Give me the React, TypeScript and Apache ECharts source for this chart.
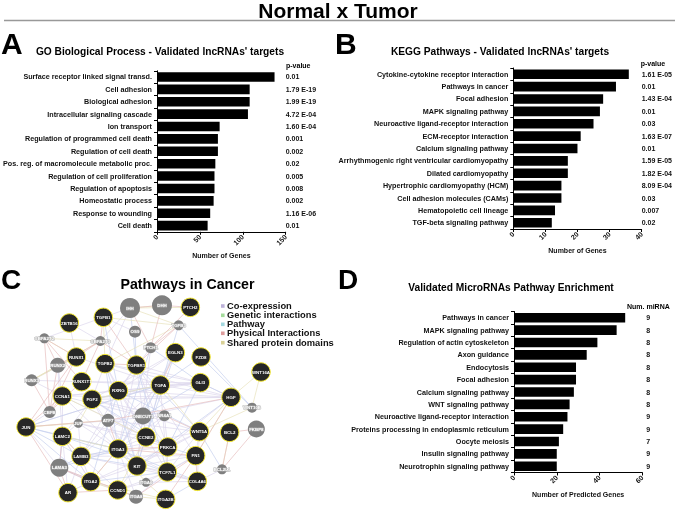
import React, { useEffect, useRef } from "react";
import * as echarts from "echarts";

const mainTitle = "Normal x Tumor";
const panelLetters = ["A", "B", "C", "D"];
const titleA = "GO Biological Process - Validated lncRNAs' targets";
const titleB = "KEGG Pathways - Validated lncRNAs' targets";
const titleC = "Pathways in Cancer";
const titleD = "Validated MicroRNAs Pathway Enrichment";

const catsA = ["Surface receptor linked signal transd.", "Cell adhesion", "Biological adhesion", "Intracellular signaling cascade", "Ion transport", "Regulation of programmed cell death", "Regulation of cell death", "Pos. reg. of macromolecule metabolic proc.", "Regulation of cell proliferation", "Regulation of apoptosis", "Homeostatic process", "Response to wounding", "Cell death"];
const valsA = [137, 108, 108, 106, 73, 71, 71, 68, 67, 67, 66, 62, 59];
const pA = ["0.01", "1.79 E-19", "1.99 E-19", "4.72 E-04", "1.60 E-04", "0.001", "0.002", "0.02", "0.005", "0.008", "0.002", "1.16 E-06", "0.01"];

const catsB = ["Cytokine-cytokine receptor interaction", "Pathways in cancer", "Focal adhesion", "MAPK signaling pathway", "Neuroactive ligand-receptor interaction", "ECM-receptor interaction", "Calcium signaling pathway", "Arrhythmogenic right ventricular cardiomyopathy", "Dilated cardiomyopathy", "Hypertrophic cardiomyopathy (HCM)", "Cell adhesion molecules (CAMs)", "Hematopoietic cell lineage", "TGF-beta signaling pathway"];
const valsB = [36, 32, 28, 27, 25, 21, 20, 17, 17, 15, 15, 13, 12];
const pB = ["1.61 E-05", "0.01", "1.43 E-04", "0.01", "0.03", "1.63 E-07", "0.01", "1.59 E-05", "1.82 E-04", "8.09 E-04", "0.03", "0.007", "0.02"];

const catsD = ["Pathways in cancer", "MAPK signaling pathway", "Regulation of actin cytoskeleton", "Axon guidance", "Endocytosis", "Focal adhesion", "Calcium signaling pathway", "WNT signaling pathway", "Neuroactive ligand-receptor interaction", "Proteins processing in endoplasmic reticulum", "Oocyte meiosis", "Insulin signaling pathway", "Neurotrophin signaling pathway"];
const valsD = [52, 48, 39, 34, 29, 29, 28, 26, 25, 23, 21, 20, 20];
const numD = ["9", "8", "8", "8", "8", "8", "8", "8", "9", "9", "7", "9", "9"];

const legendNames = ["Co-expression", "Genetic interactions", "Pathway", "Physical Interactions", "Shared protein domains"];

const blackNodes: [string, number, number][] = [
  ["ZBTB16", 208, 189], ["TGFB1", 310, 172], ["RUNX1", 229, 291], ["TGFB2", 315, 311], ["TGFBR1", 409, 315], ["EGLN3", 526, 278], ["FZD8", 603, 291], ["WNT16A", 783, 336], ["GLI3", 601, 368], ["TGFA", 481, 375], ["RUNX1T1", 245, 365], ["RXRG", 355, 392], ["CCNA1", 187, 408], ["FGF2", 276, 418], ["HGF", 693, 412], ["JUN", 78, 501], ["LAMC2", 187, 529], ["CCNE2", 438, 531], ["WNT5A", 598, 515], ["BCL2", 689, 517], ["ITGA3", 354, 567], ["PRKCA", 503, 561], ["FN1", 587, 587], ["LAMB3", 243, 589], ["KIT", 411, 618], ["TCF7L1", 502, 636], ["COL4A6", 592, 664], ["ITGA2", 272, 665], ["CCND1", 353, 690], ["AR", 204, 698], ["ITGA2B", 497, 718], ["PTCH2", 571, 142],
];
const greyNodes: [string, number, number, number][] = [
  ["IHH", 390, 144, 20], ["DHH", 486, 136, 20], ["TGFB3", 536, 196, 10], ["OS9", 405, 215, 12], ["CBFA2T2", 133, 235, 10], ["CBFA2T3", 301, 243, 10], ["PTCH1", 452, 263, 11], ["RUNX2", 173, 316, 15], ["RUNX3", 95, 361, 12], ["CBFB", 149, 456, 12], ["JUP", 235, 490, 9], ["ATF7", 324, 481, 13], ["ONECUT1", 429, 468, 17], ["NR4A1", 493, 467, 11], ["WNT10B", 756, 443, 10], ["FKBP8", 769, 507, 17], ["LAMA3", 178, 623, 18], ["BCL2L1", 666, 628, 10], ["ITGA6", 438, 667, 9], ["ITGA8", 408, 710, 14],
];

const physicalLinks = "IHH-DHH DHH-PTCH2 DHH-PTCH1 IHH-PTCH1 PTCH2-PTCH1 PTCH1-TGFB3 CBFA2T2-RUNX1 CBFA2T2-RUNX2 CBFA2T2-RUNX1T1 CBFA2T2-CBFB CBFA2T3-RUNX1 CBFA2T3-RUNX1T1 CBFA2T3-RUNX2 RUNX2-CBFB RUNX1-CBFB RUNX3-CBFB RUNX1T1-CBFB CBFA2T3-TGFBR1 TGFB1-TGFBR1 TGFB2-TGFBR1 TGFB3-TGFBR1 TGFB1-CBFA2T3 JUN-AR JUN-CCNA1 JUN-RUNX1 JUN-ATF7 AR-LAMA3 AR-CCND1 ITGA2-LAMA3 LAMC2-LAMA3 LAMB3-LAMC2 BCL2-BCL2L1 FKBP8-BCL2L1 BCL2-FKBP8 FN1-ITGA3 FN1-ITGA2B FN1-COL4A6 FN1-ITGA8 PRKCA-ITGA3 HGF-FN1 CCNA1-CBFB ITGA3-ATF7 NR4A1-WNT5A LAMA3-ITGA8 ITGA2-ITGA3 HGF-ATF7 TGFA-EGLN3".split(" ");
const sharedLinks = "IHH-DHH IHH-TGFB3 TGFB1-TGFB3 TGFB2-TGFB3 TGFB1-TGFB2 RUNX1-RUNX2 RUNX2-RUNX3 RUNX1-RUNX3 CBFA2T2-CBFA2T3 HGF-WNT16A WNT16A-WNT10B WNT5A-WNT10B WNT5A-HGF ITGA2-ITGA3 ITGA3-ITGA6 ITGA2B-ITGA6 ITGA8-ITGA2B ITGA2-ITGA8 ITGA2-ITGA2B CCNA1-CCNE2 CCND1-CCNE2 BCL2-BCL2L1 LAMC2-LAMB3 FGF2-TGFA JUN-JUP JUP-FGF2 ATF7-JUN FN1-HGF CBFA2T2-RUNX1 RUNX3-CBFA2T3 IHH-PTCH2 ITGA3-LAMC2 TGFA-WNT5A".split(" ");
const blueLinks = "TGFB3-WNT10B FZD8-WNT10B HGF-GLI3 JUN-LAMC2 JUN-ITGA3 JUN-LAMB3 JUN-ITGA2 LAMC2-ITGA3 LAMB3-ITGA3 LAMA3-ITGA2 LAMA3-ITGA3 LAMB3-LAMA3 LAMC2-LAMA3 TGFA-FGF2 GLI3-ONECUT1 PTCH1-GLI3 COL4A6-ITGA3 COL4A6-ITGA2B FN1-PRKCA TGFBR1-TCF7L1 TGFB1-RXRG TGFB2-KIT TGFB2-ITGA3 RXRG-WNT5A EGLN3-ONECUT1 TGFA-ITGA3 GLI3-PRKCA TGFBR1-WNT5A FGF2-PRKCA IHH-TGFBR1 OS9-TGFBR1 FZD8-TGFA TGFB3-KIT PTCH1-ITGA3 LAMB3-KIT LAMC2-TCF7L1 JUN-TGFA WNT5A-BCL2L1 ITGA2-TCF7L1 CCNE2-EGLN3 RXRG-ITGA2 HGF-KIT".split(" ");
const coexpLinks = "CBFA2T2-TGFB1 ZBTB16-CBFA2T3 ZBTB16-RUNX1 CBFA2T3-IHH TGFB1-IHH TGFB1-OS9 TGFB2-IHH RUNX3-RUNX1T1 RUNX3-CCNA1 RUNX3-RUNX1 RUNX2-LAMC2 RUNX2-CCNA1 RUNX1T1-TGFA RUNX1T1-GLI3 RUNX1-TGFA TGFB2-GLI3 TGFB2-HGF TGFB2-RXRG TGFB2-FGF2 TGFB2-CCNE2 TGFBR1-RXRG TGFBR1-ITGA3 TGFBR1-CCNE2 TGFBR1-PRKCA TGFBR1-FN1 TGFBR1-GLI3 EGLN3-RXRG EGLN3-FGF2 EGLN3-ITGA3 PTCH1-RXRG PTCH1-KIT GLI3-TGFA GLI3-RXRG GLI3-FGF2 GLI3-HGF GLI3-CCNA1 TGFA-HGF TGFA-CCNE2 TGFA-TCF7L1 TGFA-JUN TGFA-LAMB3 HGF-FGF2 HGF-RXRG HGF-PRKCA HGF-CCNA1 HGF-ONECUT1 RXRG-ONECUT1 RXRG-KIT RXRG-TCF7L1 RXRG-LAMB3 RXRG-CCNA1 CCNA1-LAMC2 CCNA1-ITGA3 CCNA1-PRKCA CCNA1-ONECUT1 FGF2-ITGA3 FGF2-CCNE2 FGF2-KIT FGF2-NR4A1 FGF2-WNT5A FGF2-LAMC2 JUP-ITGA3 JUP-LAMB3 JUP-LAMC2 JUP-NR4A1 JUP-CCNE2 JUP-PRKCA ATF7-CCNE2 ATF7-KIT ATF7-WNT5A ATF7-LAMB3 ONECUT1-ITGA3 ONECUT1-KIT ONECUT1-PRKCA NR4A1-CCNE2 NR4A1-ITGA3 NR4A1-PRKCA CCNE2-PRKCA CCNE2-ITGA3 CCNE2-KIT PRKCA-KIT PRKCA-TCF7L1 PRKCA-WNT5A PRKCA-ITGA2 PRKCA-LAMB3 WNT5A-FN1 WNT5A-KIT WNT5A-TCF7L1 WNT5A-ITGA3 FN1-TCF7L1 FN1-KIT FN1-LAMB3 FN1-ITGA6 COL4A6-TCF7L1 COL4A6-ITGA6 COL4A6-KIT COL4A6-LAMB3 COL4A6-BCL2L1 COL4A6-WNT5A ITGA3-KIT ITGA3-LAMB3 ITGA3-ITGA8 ITGA3-TCF7L1 ITGA3-CCND1 KIT-ITGA2 KIT-CCND1 KIT-TCF7L1 ITGA2-CCND1 ITGA2-LAMB3 ITGA2-LAMC2 ITGA2-AR CCND1-LAMB3 CCND1-ITGA6 CCND1-TCF7L1 CCND1-ITGA8 ITGA8-TCF7L1 LAMA3-LAMC2 LAMA3-CCND1 LAMC2-ITGA2 AR-LAMB3 AR-LAMC2 AR-ITGA2 JUN-LAMA3 JUN-CBFB".split(" ");

const boldFont = "Liberation Sans";

function axisStyle() {
  return {
    axisLine: { show: true, onZero: false, lineStyle: { color: "#000", width: 1 } },
    axisTick: { show: true, length: 3, lineStyle: { color: "#000", width: 1 } },
    splitLine: { show: false },
  };
}

function barPanel(idx: number, cats: string[], vals: number[], right: string[], max: number, interval: number, rect: any, rightAlign: string, rightMargin: number, xName: string, xNameGap: number) {
  return {
    grid: { left: rect.l, top: rect.t, width: rect.w, height: rect.h, containLabel: false },
    xAxis: {
      type: "value", gridIndex: idx, min: 0, max, interval, position: "bottom",
      name: xName, nameLocation: "middle", nameGap: xNameGap,
      nameTextStyle: { fontFamily: boldFont, fontWeight: "bold", fontSize: 7, color: "#111" },
      axisLabel: { rotate: 45, margin: 4, fontFamily: boldFont, fontWeight: "bold", fontSize: 7, color: "#111" },
      ...axisStyle(),
    },
    yAxes: [
      {
        type: "category", gridIndex: idx, data: cats, inverse: true, position: "left",
        axisLabel: { interval: 0, margin: 5, fontFamily: boldFont, fontWeight: "bold", fontSize: 7.2, color: "#111" },
        ...axisStyle(),
      },
      {
        type: "category", gridIndex: idx, data: right, inverse: true, position: "right",
        axisLine: { show: false }, axisTick: { show: false }, splitLine: { show: false },
        axisLabel: { interval: 0, margin: rightMargin, align: rightAlign, fontFamily: boldFont, fontWeight: "bold", fontSize: 7, color: "#111" },
      },
    ],
    series: { type: "bar", xAxisIndex: idx, barWidth: 9.6, data: vals, itemStyle: { color: "#000" }, silent: true },
  };
}

function headerText(text: string, x: number, y: number, size: number, align = "left", color = "#000") {
  return { type: "text", x, y, style: { text, fontFamily: boldFont, fontWeight: "bold", fontSize: size, fill: color, align, verticalAlign: "middle" } };
}

export default function App() {
  const ref = useRef<HTMLDivElement>(null);
  useEffect(() => {
    if (!ref.current) return;
    const chart = echarts.init(ref.current, undefined, { renderer: "svg" });

    const A = barPanel(0, catsA, valsA, pA, 150, 50, { l: 157, t: 70.8, w: 128.7, h: 161 }, "left", 0, "Number of Genes", 20);
    const B = barPanel(1, catsB, valsB, pB, 40, 10, { l: 513.3, t: 68, w: 128.4, h: 161 }, "left", 0, "Number of Genes", 18);
    const D = barPanel(2, catsD, valsD, numD, 60, 20, { l: 514, t: 311.5, w: 128.3, h: 161 }, "center", 6, "Number of Predicted Genes", 18);

    const netGrid = { left: 0, top: 260, width: 340, height: 252 };
    const netX = { type: "value", gridIndex: 3, min: 0, max: 1020, show: false };
    const netY = { type: "value", gridIndex: 3, min: 0, max: 756, inverse: true, show: false };

    const nodes = [
      ...greyNodes.map(([name, x, y, d]) => ({
        name, value: [x, y], symbolSize: d,
        itemStyle: { color: "#7f7f7f", borderWidth: 0 },
        label: { show: true, formatter: name, position: "inside", fontSize: 4.4, fontWeight: "bold", fontFamily: boldFont, color: "#fff", textBorderColor: "rgba(170,170,170,0.9)", textBorderWidth: 1 },
      })),
      ...blackNodes.map(([name, x, y]) => ({
        name, value: [x, y], symbolSize: 18.5,
        itemStyle: { color: "#262626", borderColor: "#f4e832", borderWidth: 1 },
        label: { show: true, formatter: name, position: "inside", fontSize: 4.4, fontWeight: "bold", fontFamily: boldFont, color: "#fff" },
      })),
    ];
    const mk = (list: string[], color: string, width = 0.7) => list.map((s) => {
      const [source, target] = s.split("-");
      return { source, target, lineStyle: { color, width, opacity: 1 } };
    });
    const links = [
      ...mk(coexpLinks, "#dcd7ec"),
      ...mk(blueLinks, "#c6d0ee"),
      ...mk(sharedLinks, "#e8e2bb"),
      ...mk(physicalLinks, "#e6bfbf"),
    ];

    const swatchColors = ["#bdb2d9", "#a5dc9c", "#a3d8df", "#dd9c9c", "#d9d196"];
    const legendY = [306, 315.3, 324.3, 333.3, 342.7];
    const legendGraphics = legendNames.flatMap((name, i) => [
      { type: "rect", shape: { x: 221, y: legendY[i] - 1.8, width: 3.6, height: 3.6 }, style: { fill: swatchColors[i] } },
      { ...headerText(name, 227, legendY[i], 8.9, "left", "#111"), scaleX: 1.05 },
    ]);

    chart.setOption({
      animation: false,
      backgroundColor: "#fff",
      grid: [A.grid, B.grid, D.grid, netGrid],
      xAxis: [A.xAxis, B.xAxis, D.xAxis, netX],
      yAxis: [...A.yAxes, ...B.yAxes, ...D.yAxes, netY],
      series: [
        { ...A.series, yAxisIndex: 0 },
        { ...B.series, yAxisIndex: 2 },
        { ...D.series, yAxisIndex: 4 },
        {
          type: "graph", coordinateSystem: "cartesian2d", xAxisIndex: 3, yAxisIndex: 6, layout: "none", silent: true,
          data: nodes, links, edgeSymbol: ["none", "none"],
        },
      ],
      graphic: [
        headerText(mainTitle, 338, 10.5, 21, "center"),
        { type: "line", shape: { x1: 4, y1: 20.5, x2: 675, y2: 20.5 }, style: { stroke: "#999", lineWidth: 1.6 } },
        headerText(panelLetters[0], 1, 43, 30),
        headerText(panelLetters[1], 335, 43, 30),
        headerText(panelLetters[2], 1, 279, 28),
        headerText(panelLetters[3], 338, 279, 28),
        headerText(titleA, 160, 51, 10.2, "center"),
        headerText(titleB, 500, 51, 10.2, "center"),
        headerText(titleC, 187.5, 284, 14.2, "center"),
        headerText(titleD, 511, 287, 10.2, "center"),
        headerText("p-value", 286, 65, 7),
        headerText("p-value", 640.7, 63, 7),
        headerText("Num. miRNA", 627, 306, 7),
        ...legendGraphics,
      ],
    });
    return () => chart.dispose();
  }, []);
  return <div ref={ref} style={{ position: "fixed", left: 0, top: 0, width: 675, height: 512, filter: "blur(0.4px)" }} />;
}
